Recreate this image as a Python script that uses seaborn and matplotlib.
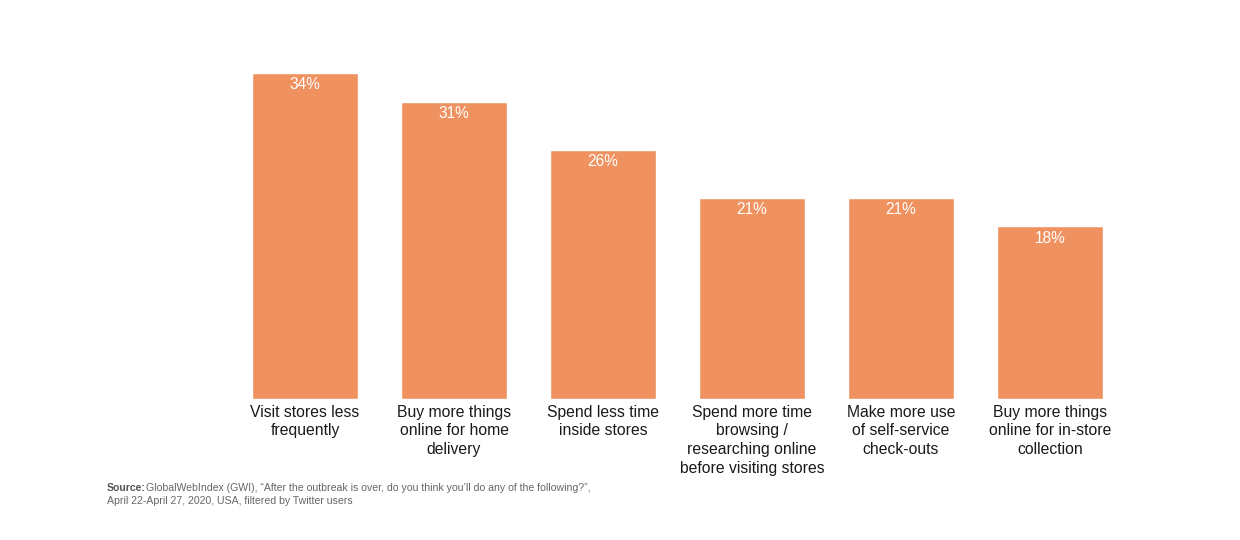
import matplotlib
matplotlib.use("Agg")
import matplotlib.pyplot as plt
import seaborn as sns
import pandas as pd

# values
categories = [
    "Visit stores less\nfrequently",
    "Buy more things\nonline for home\ndelivery",
    "Spend less time\ninside stores",
    "Spend more time\nbrowsing /\nresearching online\nbefore visiting stores",
    "Make more use\nof self-service\ncheck-outs",
    "Buy more things\nonline for in-store\ncollection",
]
shares = [34, 31, 26, 21, 21, 18]
bar_labels = ["34%", "31%", "26%", "21%", "21%", "18%"]

source_bold = "Source:"
source_text = ("GlobalWebIndex (GWI), \u201cAfter the outbreak is over, do you think you\u2019ll do any of the following?\u201d,")
source_text2 = "April 22-April 27, 2020, USA, filtered by Twitter users"

sns.set_theme(style="white")
plt.rcParams["font.family"] = ["Liberation Sans", "DejaVu Sans"]

df = pd.DataFrame({"category": categories, "share": shares})

fig = plt.figure(figsize=(12.4, 5.4), dpi=100)
ax = fig.add_axes([230.5 / 1240, 1 - 399 / 540, 894 / 1240, 326 / 540])

sns.barplot(data=df, x="category", y="share", color="#F0925F", saturation=1,
            width=0.711, ax=ax)
ax.set_xlim(-0.5, 5.5)
ax.set_ylim(0, 34)

for i, (v, lab) in enumerate(zip(shares, bar_labels)):
    ax.annotate(lab, (i, v), xytext=(0, -8.5), textcoords="offset points",
                ha="center", va="center", color="white", fontsize=11.2)

ax.set_xlabel("")
ax.set_ylabel("")
ax.set_yticks([])
ax.tick_params(axis="x", length=0, pad=4, labelsize=11.3, labelcolor="#1a1a1a")
for t in ax.get_xticklabels():
    t.set_verticalalignment("top")
    t.set_linespacing(1.32)
sns.despine(ax=ax, left=True, bottom=True)

fig.text(107 / 1240, 1 - 488 / 540, source_bold, fontsize=7.6, fontweight="bold",
         color="#555555", va="center")
fig.text(146 / 1240, 1 - 488 / 540, source_text, fontsize=7.6, color="#666666", va="center")
fig.text(107 / 1240, 1 - 501 / 540, source_text2, fontsize=7.6, color="#666666", va="center")

fig.savefig("out.png", dpi=100)
